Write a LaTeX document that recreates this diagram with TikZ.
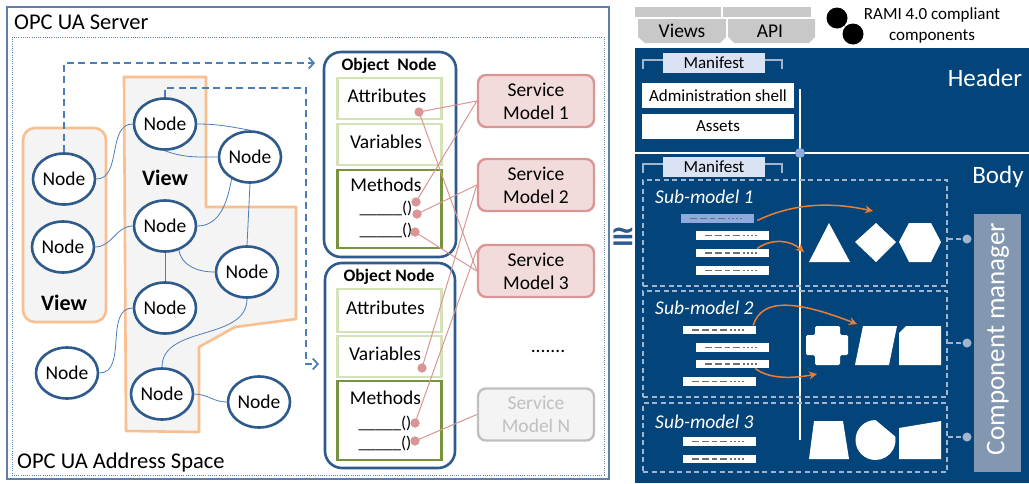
\documentclass[tikz,border=0pt]{standalone}
\usepackage{fontspec}
\setmainfont{Carlito}
\newfontfamily\symbfont{DejaVu Sans}
\usetikzlibrary{arrows.meta,shapes.geometric}

\definecolor{frameblue}{HTML}{5F7FA9}
\definecolor{nodeblue}{HTML}{2F5A8C}
\definecolor{linkblue}{HTML}{4A7EBB}
\definecolor{viewedge}{HTML}{F9BF8F}
\definecolor{viewfill}{HTML}{F4F4F4}
\definecolor{lightgreen}{HTML}{D3E3B6}
\definecolor{darkgreen}{HTML}{77933C}
\definecolor{smfill}{HTML}{F2DCDB}
\definecolor{smedge}{HTML}{D99694}
\definecolor{smlink}{HTML}{DA9694}
\definecolor{smgrey}{HTML}{C0C0C0}
\definecolor{panel}{HTML}{03457A}
\definecolor{manifest}{HTML}{DAE3F3}
\definecolor{barblue}{HTML}{8FAADC}
\definecolor{flow}{HTML}{ED7D31}
\definecolor{cmgrey}{HTML}{8497B0}
\definecolor{subdash}{HTML}{A3B5CD}
\definecolor{tabgrey}{HTML}{C8C8C8}
\definecolor{bardash}{HTML}{6F6F6F}

\begin{document}
\begin{tikzpicture}[x=1pt,y=-1pt,
  opcnode/.style={ellipse,draw=nodeblue,line width=2.6pt,fill=white,minimum width=62pt,minimum height=51pt,inner sep=0pt,font=\fontsize{19.5}{22}\selectfont},
  nodelink/.style={draw=linkblue,line width=0.8pt},
  reflink/.style={draw=linkblue,line width=1.8pt,dash pattern=on 7pt off 4.5pt,-{Straight Barb[length=5pt,width=11pt,line width=1.8pt]}},
  viewarea/.style={fill=viewfill,draw=viewedge,line width=2.6pt,line join=round},
  objbox/.style={draw=nodeblue,line width=2.6pt,rounded corners=17pt,fill=white,inner sep=0pt},
  fieldbox/.style={draw=lightgreen,line width=2.2pt,minimum width=104pt,inner sep=0pt,fill=white},
  methodbox/.style={draw=darkgreen,line width=2.6pt,minimum width=104pt,inner sep=0pt,fill=white},
  txt/.style={font=\fontsize{19.5}{22}\selectfont,inner sep=0pt},
  objtitle/.style={font=\bfseries\fontsize{17.5}{20}\selectfont,inner sep=0pt},
  smbox/.style={draw=smedge,fill=smfill,line width=2.4pt,rounded corners=8pt,minimum width=116pt,minimum height=52pt,align=center,font=\fontsize{19.5}{23}\selectfont,inner sep=0pt},
  smdot/.style={circle,fill=smlink,minimum size=9pt,inner sep=0pt},
  smline/.style={draw=smlink,line width=1pt},
  whitebox/.style={fill=white,minimum width=152pt,minimum height=25pt,inner sep=0pt,font=\fontsize{17}{20}\selectfont},
  manibox/.style={fill=manifest,minimum width=102pt,minimum height=20pt,inner sep=0pt,font=\fontsize{17}{20}\selectfont},
  bracket/.style={draw=subdash,line width=1.3pt},
  subbox/.style={draw=subdash,line width=1.3pt,dash pattern=on 5pt off 3.5pt,inner sep=0pt},
  subtitle/.style={text=white,font=\itshape\fontsize{19.5}{22}\selectfont,inner sep=0pt,anchor=west},
  bar/.style={fill=white,minimum width=73pt,minimum height=8.5pt,inner sep=0pt,
    path picture={\draw[bardash,line width=1.5pt,dash pattern=on 7pt off 3pt on 7pt off 3pt on 5pt off 3pt on 7pt off 3pt on 2pt off 2pt on 2pt off 2pt on 2pt off 2pt on 2pt off 20pt]
      ([xshift=9pt]path picture bounding box.west) -- ([xshift=-5pt]path picture bounding box.east);}},
  flowarrow/.style={draw=flow,line width=1.5pt,-{Stealth[length=8pt,width=8pt]}},
  compshape/.style={fill=white},
  cmdot/.style={circle,fill=subdash,minimum size=9pt,inner sep=0pt},
]
\useasboundingbox (0,0) rectangle (1029,483);

% ---------------- OPC UA server frame ----------------
\draw[frameblue,line width=1.5pt] (7,7) rectangle (609,479);
\draw[frameblue,line width=1pt,dash pattern=on 1pt off 1.2pt] (12,37) rectangle (604,475);
\node[anchor=west,inner sep=0pt,font=\fontsize{22.5}{26}\selectfont] (srv) at (14,22) {OPC UA Server};
\node[anchor=west,inner sep=0pt,font=\fontsize{22.5}{26}\selectfont] (adr) at (17,462) {OPC UA Address Space};

% ---------------- views ----------------
\draw[viewarea,rounded corners=12pt] (23,128) rectangle (106,322);
\draw[viewarea] (124,77) -- (206,77) -- (206,207) -- (296,207) -- (296,319) -- (235,327)
  -- (199,347) -- (199,432) -- (126,431) -- cycle;
\node[font=\bfseries\fontsize{22}{26}\selectfont,inner sep=0pt] (v1) at (64,303) {View};
\node[font=\bfseries\fontsize{22}{26}\selectfont,inner sep=0pt] (v2) at (165,178) {View};

% ---------------- address space nodes ----------------
\node[opcnode] (N1) at (64,179) {Node};
\node[opcnode] (N2) at (63,247) {Node};
\node[opcnode] (N3) at (165,124) {Node};
\node[opcnode] (N4) at (250,157) {Node};
\node[opcnode] (N5) at (165,226) {Node};
\node[opcnode] (N6) at (247,272) {Node};
\node[opcnode] (N7) at (165,308) {Node};
\node[opcnode] (N8) at (67,373) {Node};
\node[opcnode] (N9) at (162,394) {Node};
\node[opcnode] (N10) at (259,402) {Node};

\draw[nodelink] (N1.east) to[out=0,in=180] (N3.west);
\draw[nodelink] (N2.east) to[out=0,in=180] (N5.west);
\draw[nodelink] (N3.east) to[out=0,in=170] (N4.north);
\draw[nodelink] (N3.south) to[out=-20,in=180] (N4.west);
\draw[nodelink] (N4.230) to[out=-100,in=0] (N5.east);
\draw[nodelink] (N4.south) -- (N6.north);
\draw[nodelink] (N5.south) -- (N7.north);
\draw[nodelink] (N5.300) to[out=-80,in=180] (N6.west);
\draw[nodelink] (N6.south) to[out=-90,in=90] (N9.north);
\draw[nodelink] (N7.west) to[out=180,in=0] (N8.east);
\draw[nodelink] (N9.east) to[out=0,in=180] (N10.west);

% references to object nodes
\coordinate (r1) at (315,63);
\coordinate (r2) at (319,364);
\draw[reflink] (N1.north) |- (r1);
\draw[reflink] (N3.north) |- (306,88) |- (r2);

% ---------------- object nodes ----------------
\node[objbox,minimum width=132pt,minimum height=205pt] (ON1) at (390,154.5) {};
\node[objbox,minimum width=130pt,minimum height=205pt] (ON2) at (390,365.5) {};
\node[fieldbox,minimum height=41pt] (at1) at (389.5,98.5) {};
\node[fieldbox,minimum height=41pt] (va1) at (389.5,144.5) {};
\node[methodbox,minimum height=78pt] (me1) at (389.5,209) {};
\node[fieldbox,minimum height=43pt] (at2) at (389.5,310.5) {};
\node[fieldbox,minimum height=41pt] (va2) at (389.5,356.5) {};
\node[methodbox,minimum height=79pt] (me2) at (389.5,420.5) {};

\node[objtitle] (ot1) at (389,66) {Object\ \ Node};
\node[objtitle] (ot2) at (389,277) {Object Node};
\node[txt] (ta1) at (387,96) {Attributes};
\node[txt] (tv1) at (386,142) {Variables};
\node[txt] (tm1) at (386,185) {Methods};
\node[txt,font=\fontsize{17}{20}\selectfont] (f11) at (386,208) {\_\_\_\_\_()};
\node[txt,font=\fontsize{17}{20}\selectfont] (f12) at (386,230) {\_\_\_\_\_()};
\node[txt] (ta2) at (385.5,308) {Attributes};
\node[txt] (tv2) at (385,354) {Variables};
\node[txt] (tm2) at (385.5,398) {Methods};
\node[txt,font=\fontsize{17}{20}\selectfont] (f21) at (385,423) {\_\_\_\_\_()};
\node[txt,font=\fontsize{17}{20}\selectfont] (f22) at (385,443) {\_\_\_\_\_()};

% ---------------- service models ----------------
\node[smbox] (SM1) at (536,101) {Service\\Model 1};
\node[smbox] (SM2) at (536,185) {Service\\Model 2};
\node[smbox] (SM3) at (536,271) {Service\\Model 3};
\node[smbox,draw=smgrey,fill=viewfill,text=smgrey] (SMN) at (536,414.5) {Service\\Model N};
\node[txt] (more) at (548,351) {.......};

\node[smdot] (d1) at (419,112) {};
\node[smdot] (d2) at (416,202) {};
\node[smdot] (d3) at (417,214) {};
\node[smdot] (d4) at (415,232) {};
\node[smdot] (e1) at (422,368) {};
\node[smdot] (e2) at (415,423) {};
\node[smdot] (e3) at (415,441) {};

\draw[smline] (d1.center) -- (SM1.west);
\draw[smline] (d1.center) -- (SM3.west);
\draw[smline] (d2.center) -- (SM1.west);
\draw[smline] (d3.center) -- (SM2.west);
\draw[smline] (d4.center) -- (SM3.west);
\draw[smline] (e1.center) -- (SM2.west);
\draw[smline] (e2.center) -- ([yshift=21pt]SM3.west);
\draw[smline] (e3.center) -- (SMN.west);
\foreach \d in {d1,d2,d3,d4,e1,e2,e3} \fill[smlink] (\d) circle[radius=4.5pt];

% ---------------- equivalence sign ----------------
\node[text=nodeblue,font=\symbfont\bfseries\fontsize{30}{30}\selectfont,inner sep=0pt] (eq) at (623,237) {≅};

% ---------------- tabs and legend ----------------
\fill[tabgrey] (635,7) rectangle (721,17);
\fill[tabgrey] (723,7) rectangle (811,17);
\fill[tabgrey] (638,19) -- (726,19) -- (726,37) -- (720,43) -- (645,43) -- (638,37) -- cycle;
\fill[tabgrey] (728,19) -- (815,19) -- (815,37) -- (809,43) -- (734,43) -- (728,37) -- cycle;
\node[txt,font=\fontsize{19.5}{22}\selectfont] (tviews) at (682,31) {Views};
\node[txt,font=\fontsize{19.5}{22}\selectfont] (tapi) at (770,31) {API};
\node[circle,fill=black,minimum size=21pt,inner sep=0pt] (k1) at (837,18) {};
\node[circle,fill=black,minimum size=21pt,inner sep=0pt] (k2) at (853,34) {};
\draw[linkblue,line width=0.8pt] (k1) -- (k2);
\node[align=center,inner sep=0pt,font=\fontsize{17}{21}\selectfont] (rami) at (932,25) {RAMI 4.0 compliant\\components};

% ---------------- asset panel ----------------
\fill[panel] (635,48) rectangle (1029,483);
\draw[white,line width=1.6pt] (635,153) -- (1029,153);
\draw[white,line width=1.6pt] (800,89) -- (800,440);
\node[circle,fill=barblue,minimum size=10pt,inner sep=0pt] (hub) at (800,153) {};

\node[text=white,font=\fontsize{25}{28}\selectfont,inner sep=0pt] (hdr) at (985,78) {Header};
\node[text=white,font=\fontsize{25}{28}\selectfont,inner sep=0pt] (bdy) at (998,177) {Body};

\draw[bracket] (643,69) -- (643,60) -- (782,60) -- (782,69);
\node[manibox] (man1) at (714,63) {Manifest};
\node[whitebox] (adm) at (718,95.5) {Administration shell};
\node[whitebox] (ast) at (718,126.5) {Assets};

\draw[bracket] (643,173) -- (643,164) -- (782,164) -- (782,173);
\node[manibox] (man2) at (714,167) {Manifest};

% sub-models
\node[subbox,minimum width=304pt,minimum height=106pt] (sb1) at (795,233) {};
\node[subbox,minimum width=304pt,minimum height=106pt] (sb2) at (795,344) {};
\node[subbox,minimum width=304pt,minimum height=69pt] (sb3) at (795,437.5) {};
\node[subtitle] (st1) at (655,197) {Sub-model 1};
\node[subtitle] (st2) at (655,308) {Sub-model 2};
\node[subtitle] (st3) at (655,422) {Sub-model 3};

\node[bar,fill=barblue] (b11) at (717.5,218.5) {};
\node[bar] (b12) at (732.5,235.5) {};
\node[bar] (b13) at (732.5,253) {};
\node[bar] (b14) at (732.5,270.5) {};
\node[bar] (b21) at (719.5,330) {};
\node[bar] (b22) at (732.5,347.5) {};
\node[bar] (b23) at (732.5,364) {};
\node[bar] (b24) at (719.5,381.5) {};
\node[bar] (b31) at (719.5,441.5) {};
\node[bar] (b32) at (719.5,459) {};

\coordinate (t1) at (873,211);
\coordinate (t2) at (804,252);
\coordinate (t3) at (857,324);
\coordinate (t4) at (817,374);
\draw[flowarrow] ([xshift=3pt,yshift=-2pt]b11.east) .. controls (800,200) and (840,204) .. (t1);
\draw[flowarrow] ([xshift=-12pt]b13.north east) .. controls (772,238) and (790,240) .. (t2);
\draw[flowarrow] ([xshift=-3pt]b21.north east) .. controls (762,296) and (800,302) .. (t3);
\draw[flowarrow] ([xshift=-14pt]b23.south east) .. controls (770,380) and (795,378) .. (t4);

% component shapes
\fill[compshape] (809,262) -- (850,262) -- (829,223) -- cycle;
\fill[compshape] (855,242) -- (876,223) -- (896,242) -- (876,262) -- cycle;
\fill[compshape] (899,242) -- (909,223) -- (931,223) -- (941,242) -- (931,262) -- (909,262) -- cycle;
\fill[compshape,rounded corners=1.5pt] (815,326) -- (840,326) -- (840,335) -- (848,335) -- (848,355) -- (840,355)
  -- (840,365) -- (815,365) -- (815,355) -- (806,355) -- (806,335) -- (815,335) -- cycle;
\fill[compshape] (855,365) -- (863,326) -- (897,326) -- (889,365) -- cycle;
\fill[compshape] (899,333) -- (906,326) -- (941,326) -- (941,365) -- (899,365) -- cycle;
\fill[compshape] (809,459) -- (849,459) -- (843,421) -- (814,421) -- cycle;
\fill[compshape] (875.5,420) arc[start angle=90,end angle=370,radius=20pt] -- cycle;
\fill[compshape] (899,428) -- (941,421) -- (941,459) -- (899,459) -- cycle;

% component manager
\node[fill=cmgrey,minimum width=47pt,minimum height=258pt,inner sep=0pt] (cm) at (997.5,343) {};
\node[rotate=90,text=white,font=\fontsize{27}{30}\selectfont,inner sep=0pt] (cmt) at (998,339) {Component manager};
\node[cmdot] (c1) at (967,239) {};
\node[cmdot] (c2) at (967,343) {};
\node[cmdot] (c3) at (967,437) {};
\draw[subdash,line width=1.3pt,dash pattern=on 5pt off 3.5pt] (sb1.east |- c1) -- (c1);
\draw[subdash,line width=1.3pt,dash pattern=on 5pt off 3.5pt] (sb2.east |- c2) -- (c2);
\draw[subdash,line width=1.3pt,dash pattern=on 5pt off 3.5pt] (sb3.east |- c3) -- (c3);
\end{tikzpicture}
\end{document}
